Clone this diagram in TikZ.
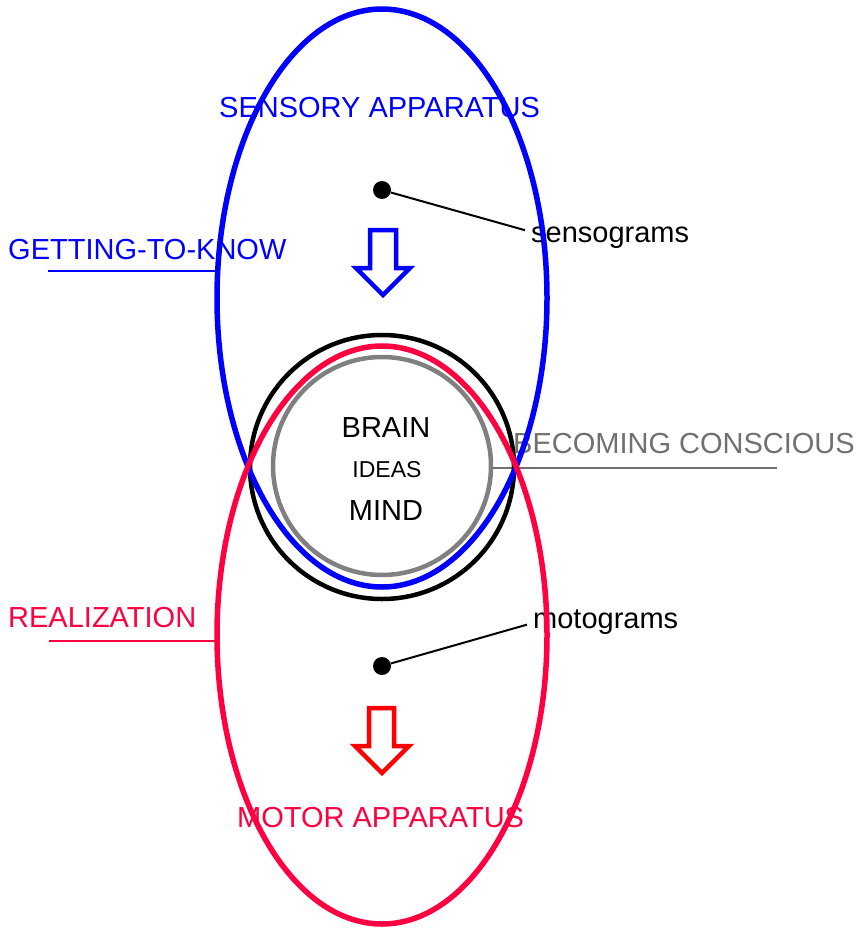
\documentclass[tikz,border=0pt]{standalone}
\usepackage{fontspec}
\setmainfont{Liberation Sans}
\usetikzlibrary{positioning}
\definecolor{sensblue}{RGB}{0,0,255}
\definecolor{motred}{RGB}{255,0,64}
\definecolor{consgray}{RGB}{112,112,112}

\begin{document}
\begin{tikzpicture}[x=1pt,y=-1pt,
  lbl/.style={anchor=base west,inner sep=0pt,font=\fontsize{29}{31}\selectfont},
  mid/.style={anchor=base,inner sep=0pt,font=\fontsize{29}{31}\selectfont},
  dot/.style={circle,fill=black,inner sep=0pt,minimum size=18pt},
  hollow/.style={line width=4.5pt,miter limit=10}]
\useasboundingbox (0,0) rectangle (866,928);
% labels
\node[lbl,text=sensblue] (sensapp) at (219,118) {SENSORY APPARATUS};
\node[lbl,text=sensblue] (know) at (8,259) {GETTING-TO-KNOW};
\node[lbl] (senso) at (531,242) {sensograms};
\node[mid] (brain) at (386,437) {BRAIN};
\node[mid,font=\fontsize{23}{25}\selectfont] (ideas) at (387,477) {IDEAS};
\node[mid] (mind) at (386,520) {MIND};
\node[lbl,text=consgray] (becoming) at (513,453) {BECOMING CONSCIOUS};
\node[lbl,text=motred] (realize) at (8,627) {REALIZATION};
\node[lbl] (moto) at (533,628) {motograms};
\node[lbl,text=motred] (motapp) at (237,827) {MOTOR APPARATUS};
% underlines
\draw[sensblue,line width=2pt] (48,271) -- (216,271);
\draw[consgray,line width=2pt] (492,468) -- (777,468);
\draw[motred,line width=2pt] (49,641) -- (216,641);
% brain, ideas
\draw[line width=4.5pt] (382,467) circle [radius=132];
\draw[gray,line width=4.5pt] (382,466) circle [radius=109];
% the two apparatus
\draw[sensblue,line width=5.5pt] (382,298) ellipse [x radius=165,y radius=289];
\draw[motred,line width=5.5pt] (382,635) ellipse [x radius=165,y radius=289];
% arrows
\draw[sensblue,hollow] (370,230) -- (396,230) -- (396,268) -- (410,268) -- (383,295)
  -- (356,268) -- (370,268) -- cycle;
\draw[red,hollow] (369,708) -- (394,708) -- (394,746) -- (409,746) -- (382,773)
  -- (355,746) -- (369,746) -- cycle;
% grams
\node[dot] (sdot) at (382,190) {};
\node[dot] (mdot) at (382,666) {};
\draw[line width=2pt] (sdot) -- ([shift={(-6,-7)}]senso.west);
\draw[line width=2pt] (mdot) -- ([shift={(-6,3)}]moto.west);
\end{tikzpicture}
\end{document}
